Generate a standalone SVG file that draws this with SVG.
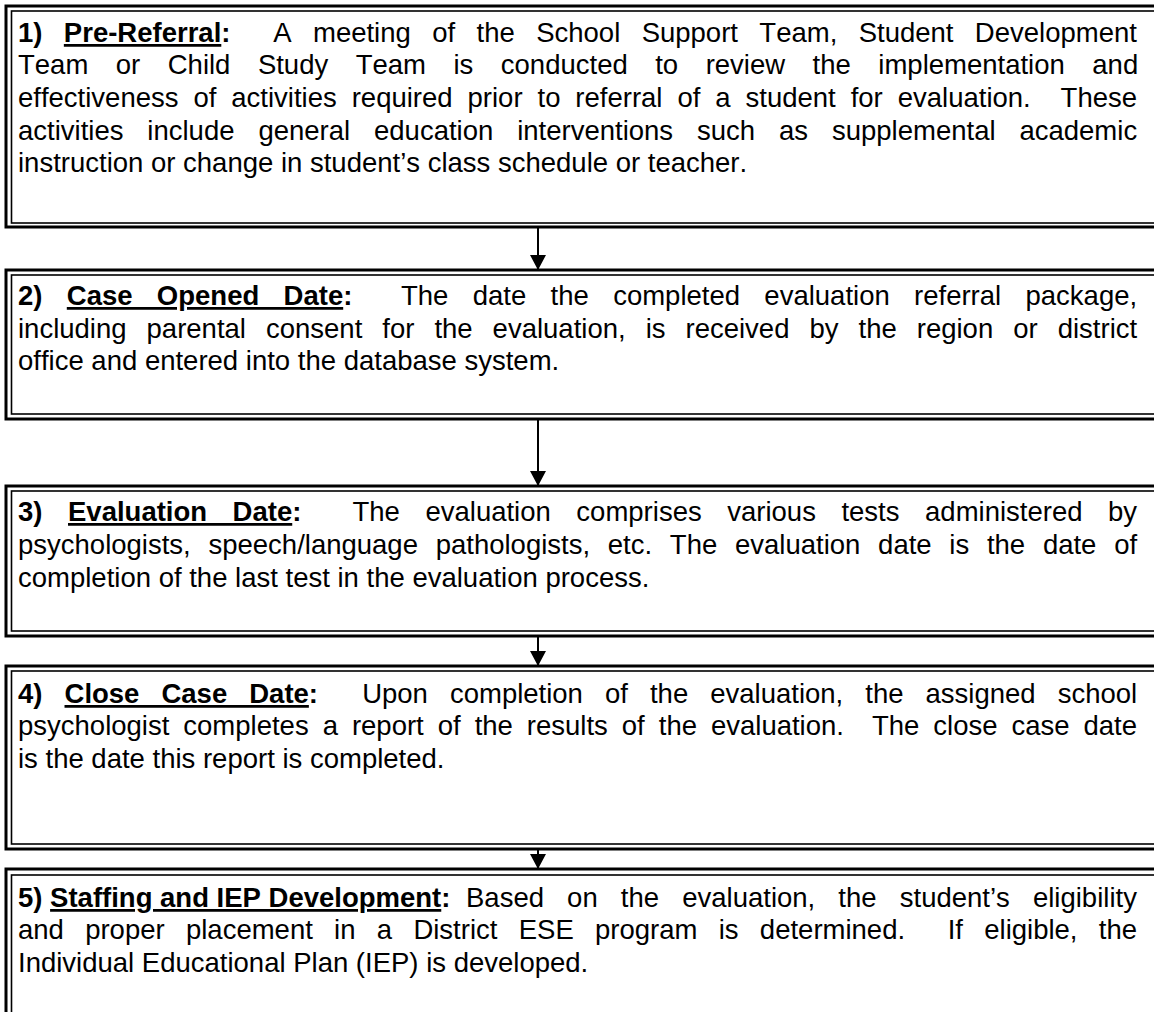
<svg xmlns="http://www.w3.org/2000/svg" width="1154" height="1012" viewBox="0 0 1154 1012">
  <style>
    .outer { fill: none; stroke: #000; stroke-width: 3; }
    .inner { fill: none; stroke: #000; stroke-width: 1.6; }
    .t { font-family: "Liberation Sans", Arial, Helvetica, sans-serif; font-size: 27.5px; fill: #000; font-kerning: none; }
    .b { font-weight: bold; }
    .u { text-decoration: underline; }
    .link { stroke: #000; stroke-width: 2; fill: none; }
  </style>
  <defs>
    <marker id="arrow" viewBox="0 0 15 16" refX="15" refY="8" markerWidth="15" markerHeight="16" markerUnits="userSpaceOnUse" orient="auto">
      <path d="M0,0 L15,8 L0,16 Z" fill="#000"/>
    </marker>
  </defs>
  <rect width="1154" height="1012" fill="#fff"/>

  <!-- Step 1: Pre-Referral -->
  <g id="step1">
    <rect class="outer" x="6" y="6" width="1170" height="221"/>
    <rect class="inner" x="11.5" y="11" width="1160" height="212"/>
    <text class="t" x="18" y="42" word-spacing="13.75" xml:space="preserve"><tspan class="b">1) <tspan class="u">Pre-Referral</tspan>:</tspan>  A meeting of the School Support Team, Student Development</text>
    <text class="t" x="18" y="74" word-spacing="19.85" xml:space="preserve">Team or Child Study Team is conducted to review the implementation and</text>
    <text class="t" x="18" y="107" word-spacing="7.30" xml:space="preserve">effectiveness of activities required prior to referral of a student for evaluation.  These</text>
    <text class="t" x="18" y="140" word-spacing="16.26" xml:space="preserve">activities include general education interventions such as supplemental academic</text>
    <text class="t" x="18" y="172" xml:space="preserve">instruction or change in student’s class schedule or teacher.</text>
  </g>

  <!-- Step 2: Case Opened Date -->
  <g id="step2">
    <rect class="outer" x="6" y="270" width="1170" height="149"/>
    <rect class="inner" x="11.5" y="275" width="1160" height="139"/>
    <text class="t" x="18" y="305" word-spacing="16.69" xml:space="preserve"><tspan class="b">2) <tspan class="u">Case Opened Date</tspan>:</tspan>  The date the completed evaluation referral package,</text>
    <text class="t" x="18" y="338" word-spacing="12.37" xml:space="preserve">including parental consent for the evaluation, is received by the region or district</text>
    <text class="t" x="18" y="370" xml:space="preserve">office and entered into the database system.</text>
  </g>

  <!-- Step 3: Evaluation Date -->
  <g id="step3">
    <rect class="outer" x="6" y="486" width="1170" height="150"/>
    <rect class="inner" x="11.5" y="491" width="1160" height="140"/>
    <text class="t" x="18" y="521" word-spacing="17.91" xml:space="preserve"><tspan class="b">3) <tspan class="u">Evaluation Date</tspan>:</tspan>  The evaluation comprises various tests administered by</text>
    <text class="t" x="18" y="554" word-spacing="10.09" xml:space="preserve">psychologists, speech/language pathologists, etc. The evaluation date is the date of</text>
    <text class="t" x="18" y="587" xml:space="preserve">completion of the last test in the evaluation process.</text>
  </g>

  <!-- Step 4: Close Case Date -->
  <g id="step4">
    <rect class="outer" x="6" y="666" width="1170" height="183"/>
    <rect class="inner" x="11.5" y="671" width="1160" height="173"/>
    <text class="t" x="18" y="703" word-spacing="14.41" xml:space="preserve"><tspan class="b">4) <tspan class="u">Close Case Date</tspan>:</tspan>  Upon completion of the evaluation, the assigned school</text>
    <text class="t" x="18" y="735" word-spacing="6.34" xml:space="preserve">psychologist completes a report of the results of the evaluation.  The close case date</text>
    <text class="t" x="18" y="768" xml:space="preserve">is the date this report is completed.</text>
  </g>

  <!-- Step 5: Staffing and IEP Development (runs past the bottom edge) -->
  <g id="step5">
    <rect class="outer" x="6" y="869" width="1170" height="200"/>
    <rect class="inner" x="11.5" y="875" width="1160" height="190"/>
    <text class="t" x="18" y="907" xml:space="preserve"><tspan class="b">5) <tspan class="u">Staffing and IEP Development</tspan>:</tspan><tspan x="466" word-spacing="15.5">Based on the evaluation, the student’s eligibility</tspan></text>
    <text class="t" x="18" y="939" word-spacing="13.65" xml:space="preserve">and proper placement in a District ESE program is determined.  If eligible, the</text>
    <text class="t" x="18" y="972" xml:space="preserve">Individual Educational Plan (IEP) is developed.</text>
  </g>

  <!-- Connectors between steps -->
  <g id="connectors">
    <line class="link" x1="538" y1="228" x2="538" y2="270" marker-end="url(#arrow)"/>
    <line class="link" x1="538" y1="420" x2="538" y2="486" marker-end="url(#arrow)"/>
    <line class="link" x1="538" y1="637" x2="538" y2="666" marker-end="url(#arrow)"/>
    <line class="link" x1="538" y1="850" x2="538" y2="869" marker-end="url(#arrow)"/>
  </g>
</svg>
